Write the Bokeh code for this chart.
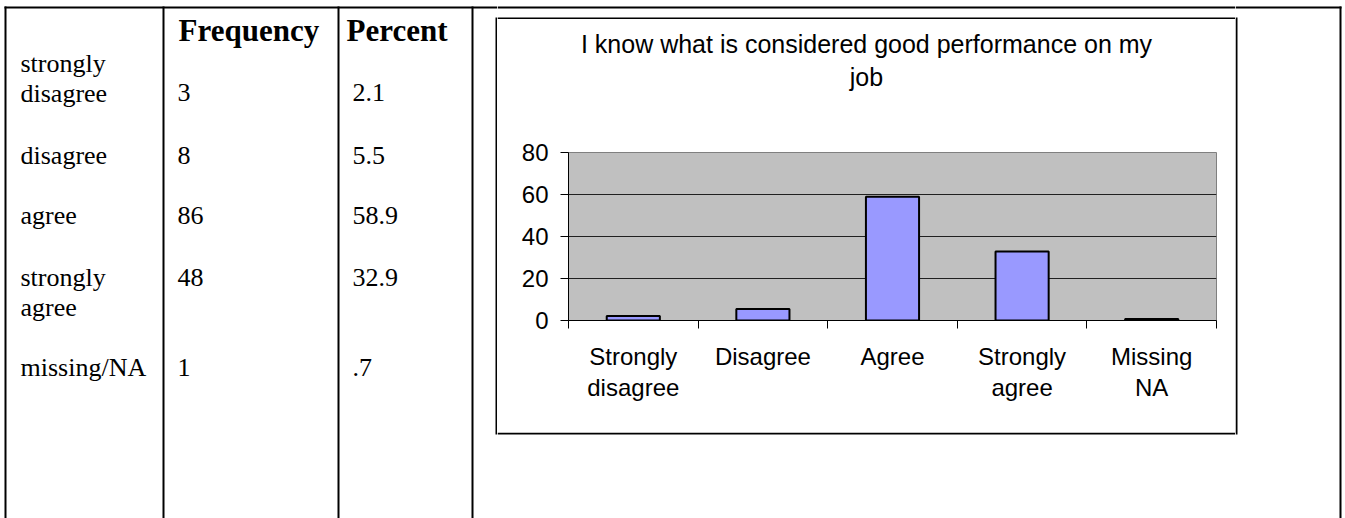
from bokeh.plotting import figure
from bokeh.layouts import row, column
from bokeh.models import Range1d, FixedTicker
from bokeh.core.properties import value
from bokeh.embed import file_html
from bokeh.resources import INLINE

# ---------------- data ----------------
table_headers = ["Frequency", "Percent"]
table_labels = ["strongly\ndisagree", "disagree", "agree", "strongly\nagree", "missing/NA"]
frequency = [3, 8, 86, 48, 1]
percent = [2.1, 5.5, 58.9, 32.9, 0.7]
chart_categories = ["Strongly\ndisagree", "Disagree", "Agree", "Strongly\nagree", "Missing\nNA"]
chart_title = "I know what is considered good performance on my\njob"
y_ticks = [0, 20, 40, 60, 80]

percent_text = [("%.1f" % v).lstrip("0") for v in percent]

SERIF = value("Liberation Serif")
SANS = "Liberation Sans"


def blank(x0, x1, y0, y1):
    p = figure(width=x1 - x0, height=y1 - y0,
               x_range=Range1d(x0, x1), y_range=Range1d(y1, y0),
               output_backend="svg", toolbar_location=None, tools="",
               x_axis_location=None, y_axis_location=None,
               min_border=0, outline_line_color=None,
               background_fill_color="white", border_fill_color="white")
    p.grid.visible = False
    p.frame_align = False
    return p


def rule(p, l, r, t, b):
    p.quad(left=[l], right=[r], top=[t], bottom=[b], fill_color="black", line_color=None)


# ---------------- left: the table ----------------
L = blank(0, 497, 0, 518)
rule(L, 4, 497, 6, 8)            # top border
for cx in (5, 163, 338, 472):    # vertical cell borders
    rule(L, cx - 1, cx + 1, 6, 518)
rule(L, 495, 497, 17, 434)       # chart box left edge

L.text(x=[178, 346], y=[30, 30], text=table_headers, text_font=SERIF,
       text_font_size="31px", text_font_style="bold", text_color="black",
       text_baseline="alphabetic", text_align="left")

label_base = [63, 155, 215, 277, 367]
value_base = [92, 155, 215, 277, 367]
lx, ly, lt = [], [], []
for lab, yb in zip(table_labels, label_base):
    for j, line in enumerate(lab.split("\n")):
        lx.append(20)
        ly.append(yb + j * 29.5)
        lt.append(line)
L.text(x=lx, y=ly, text=lt, text_font=SERIF, text_font_size="26px",
       text_color="black", text_baseline="alphabetic", text_align="left")
L.text(x=[177] * len(frequency), y=value_base, text=[str(f) for f in frequency],
       text_font=SERIF, text_font_size="26px", text_color="black",
       text_baseline="alphabetic", text_align="left")
L.text(x=[352] * len(percent_text), y=value_base, text=percent_text,
       text_font=SERIF, text_font_size="26px", text_color="black",
       text_baseline="alphabetic", text_align="left")

# ---------------- middle column ----------------
T = blank(497, 1235, 0, 19)
rule(T, 497, 1235, 6, 8)
rule(T, 497, 1235, 17, 19)

H = blank(497, 1235, 19, 130)
H.text(x=[866], y=[60], text=[chart_title], text_font=value(SANS),
       text_font_size="25px", text_color="black", text_align="center",
       text_baseline="middle", text_line_height=1.18)

C = figure(width=738, height=302, x_range=Range1d(0, len(chart_categories)),
           y_range=Range1d(y_ticks[0], y_ticks[-1]),
           output_backend="svg", toolbar_location=None, tools="",
           min_border_left=71, min_border_right=19, min_border_top=22, min_border_bottom=112,
           background_fill_color="#C0C0C0", border_fill_color="white",
           outline_line_color="#808080", outline_line_width=1)
C.frame_align = False

xs = [i + 0.5 for i in range(len(chart_categories))]
C.vbar(x=xs, top=percent, bottom=0, width=0.41, fill_color="#9999FF",
       line_color="black", line_width=2)

C.xgrid.visible = False
C.ygrid.ticker = FixedTicker(ticks=y_ticks[1:-1])
C.ygrid.grid_line_color = "#202020"
C.ygrid.grid_line_width = 1

xa = C.xaxis[0]
xa.ticker = FixedTicker(ticks=xs, minor_ticks=list(range(len(chart_categories) + 1)))
xa.major_label_overrides = {x: lab for x, lab in zip(xs, chart_categories)}
xa.major_tick_line_color = None
xa.major_tick_out = 0
xa.major_tick_in = 0
xa.minor_tick_line_color = "black"
xa.minor_tick_out = 8
xa.minor_tick_in = 0
xa.major_label_standoff = 14
xa.axis_line_color = "black"
xa.major_label_text_font = SANS
xa.major_label_text_font_size = "24px"
xa.major_label_text_color = "black"
xa.major_label_text_line_height = 1.15

ya = C.yaxis[0]
ya.ticker = FixedTicker(ticks=y_ticks)
ya.major_tick_out = 8
ya.major_tick_in = 0
ya.major_tick_line_color = "black"
ya.minor_tick_line_color = None
ya.major_label_standoff = 12
ya.axis_line_color = "black"
ya.major_label_text_font = SANS
ya.major_label_text_font_size = "24px"
ya.major_label_text_color = "black"

B = blank(497, 1235, 432, 518)
rule(B, 497, 1235, 432, 434)

# ---------------- right strip ----------------
R = blank(1235, 1345, 0, 518)
rule(R, 1235, 1341, 6, 8)
rule(R, 1235, 1237, 17, 434)
rule(R, 1339, 1341, 6, 518)

layout = row(L, column(T, H, C, B, spacing=0), R, spacing=0)

open("out.html", "w").write(file_html(layout, INLINE))
